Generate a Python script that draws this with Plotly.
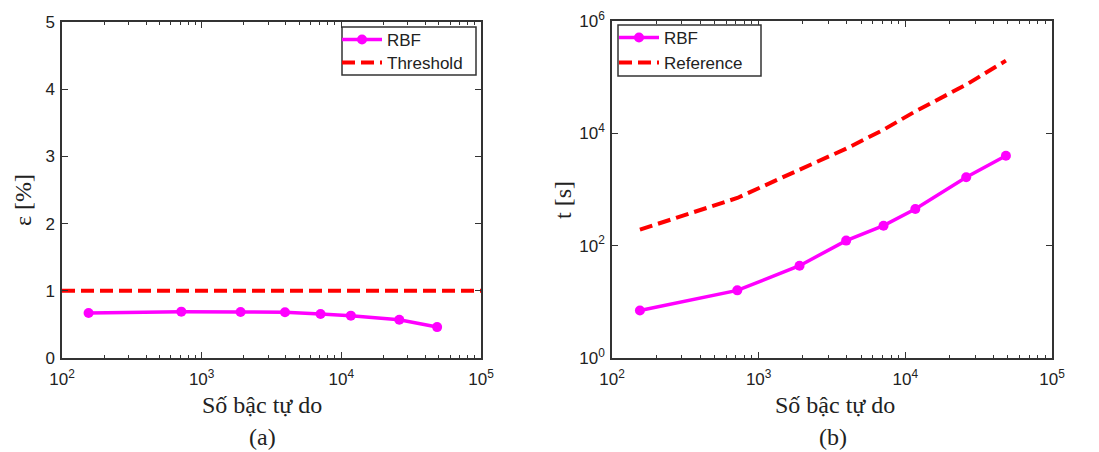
import plotly.graph_objects as go

# ---- data ----
dof = [155, 715, 1900, 3950, 7100, 11700, 26000, 48500]
err_rbf = [0.67, 0.69, 0.685, 0.68, 0.655, 0.63, 0.57, 0.46]
threshold_x = [100, 100000]
threshold_y = [1.0, 1.0]
time_rbf = [7.0, 16.0, 44, 123, 227, 450, 1650, 4000]
time_ref = [193, 706, 2255, 5330, 11600, 24600, 73500, 196800]

x_tickvals = [100, 1000, 10000, 100000]
x_ticktext = ["10<sup>2</sup>", "10<sup>3</sup>", "10<sup>4</sup>", "10<sup>5</sup>"]
y1_tickvals = [0, 1, 2, 3, 4, 5]
y2_tickvals = [1, 100, 10000, 1000000]
y2_ticktext = ["10<sup>0</sup>", "10<sup>2</sup>", "10<sup>4</sup>", "10<sup>6</sup>"]

W, H = 1099, 452
MAG = "#ff00ff"
RED = "#ff0000"
AX = "#333333"
SANS = "Liberation Sans, Arial, sans-serif"
SERIF = "Liberation Serif, Times New Roman, serif"


def px_x(p):
    return p / W


def px_y(p):
    return 1 - p / H


fig = go.Figure()

fig.add_trace(go.Scatter(x=dof, y=err_rbf, mode="lines+markers", name="RBF",
                         line=dict(color=MAG, width=3.5),
                         marker=dict(symbol="circle", size=10, color=MAG),
                         xaxis="x", yaxis="y", legend="legend"))
fig.add_trace(go.Scatter(x=threshold_x, y=threshold_y, mode="lines", name="Threshold",
                         line=dict(color=RED, width=4, dash="13px,6px"),
                         xaxis="x", yaxis="y", legend="legend2"))
fig.add_trace(go.Scatter(x=dof, y=time_rbf, mode="lines+markers", name="RBF",
                         line=dict(color=MAG, width=3.5),
                         marker=dict(symbol="circle", size=10, color=MAG),
                         xaxis="x2", yaxis="y2", legend="legend3"))
fig.add_trace(go.Scatter(x=dof, y=time_ref, mode="lines", name="Reference",
                         line=dict(color=RED, width=4, dash="13px,6px"),
                         xaxis="x2", yaxis="y2", legend="legend4"))

common_axis = dict(showline=True, linecolor=AX, linewidth=1.5, mirror="allticks",
                   ticks="inside", ticklen=6, tickcolor=AX, showgrid=False, zeroline=False,
                   automargin=False,
                   tickfont=dict(family=SANS, size=17, color="#222222"))
minor_x = dict(ticks="inside", ticklen=3, tickcolor=AX, dtick="D1", showgrid=False)

leg_common = dict(bgcolor="rgba(0,0,0,0)", borderwidth=0, xanchor="left", yanchor="middle",
                  font=dict(family=SANS, size=17, color="#222222"), itemwidth=40)

fig.update_layout(
    template="none",
    width=W, height=H,
    margin=dict(l=0, r=0, t=0, b=0, pad=0),
    paper_bgcolor="white", plot_bgcolor="white",
    showlegend=True,
    xaxis=dict(type="log", range=[2, 5], domain=[px_x(62), px_x(481)],
               tickvals=x_tickvals, ticktext=x_ticktext, minor=minor_x, anchor="y",
               ticklabelstandoff=5, **common_axis),
    yaxis=dict(range=[0, 5], domain=[px_y(358), px_y(22)], tickvals=y1_tickvals,
               anchor="x", ticklabelstandoff=2, **common_axis),
    xaxis2=dict(type="log", range=[2, 5], domain=[px_x(612), px_x(1052)],
                tickvals=x_tickvals, ticktext=x_ticktext, minor=minor_x, anchor="y2",
                ticklabelstandoff=5, **common_axis),
    yaxis2=dict(type="log", range=[0, 6], domain=[px_y(358), px_y(21)],
                tickvals=y2_tickvals, ticktext=y2_ticktext, anchor="x2",
                ticklabelstandoff=2, **common_axis),
    legend=dict(x=px_x(337), y=px_y(40), **leg_common),
    legend2=dict(x=px_x(337), y=px_y(63), **leg_common),
    legend3=dict(x=px_x(614), y=px_y(38), **leg_common),
    legend4=dict(x=px_x(614), y=px_y(63), **leg_common),
    shapes=[
        dict(type="rect", xref="paper", yref="paper", x0=px_x(342), x1=px_x(476),
             y0=px_y(75), y1=px_y(27), line=dict(color=AX, width=1.5),
             fillcolor="white", layer="above"),
        dict(type="rect", xref="paper", yref="paper", x0=px_x(618), x1=px_x(761),
             y0=px_y(76), y1=px_y(25), line=dict(color=AX, width=1.5),
             fillcolor="white", layer="above"),
    ],
)

ann_font_title = dict(family=SERIF, size=24, color="#222222")
annotations = [
    dict(text="Số bậc tự do", x=px_x(262), y=px_y(405), xref="paper", yref="paper",
         showarrow=False, font=ann_font_title, xanchor="center", yanchor="middle"),
    dict(text="(a)", x=px_x(262), y=px_y(437), xref="paper", yref="paper",
         showarrow=False, font=ann_font_title, xanchor="center", yanchor="middle"),
    dict(text="Số bậc tự do", x=px_x(835), y=px_y(405), xref="paper", yref="paper",
         showarrow=False, font=ann_font_title, xanchor="center", yanchor="middle"),
    dict(text="(b)", x=px_x(833), y=px_y(437), xref="paper", yref="paper",
         showarrow=False, font=ann_font_title, xanchor="center", yanchor="middle"),
    dict(text="ε [%]", x=px_x(23), y=px_y(200), xref="paper", yref="paper", textangle=-90,
         showarrow=False, font=ann_font_title, xanchor="center", yanchor="middle"),
    dict(text="t [s]", x=px_x(563), y=px_y(200), xref="paper", yref="paper", textangle=-90,
         showarrow=False, font=ann_font_title, xanchor="center", yanchor="middle"),
]
fig.update_layout(annotations=annotations)

fig.write_html("out.html", config={"displayModeBar": False},
               post_script="document.body.style.margin='0';document.body.style.overflow='hidden';")
